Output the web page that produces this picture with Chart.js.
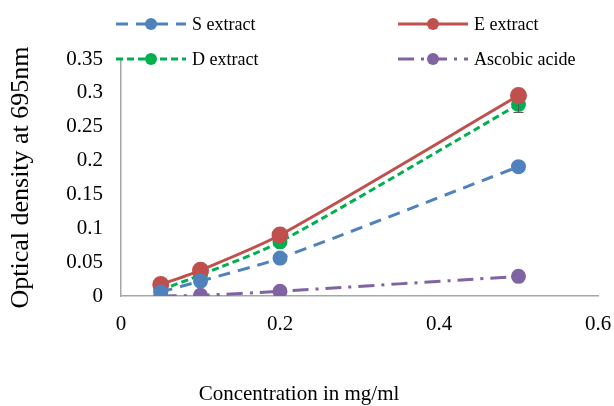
<!DOCTYPE html>
<html>
<head>
<meta charset="utf-8">
<script src="https://cdn.jsdelivr.net/npm/chart.js@4/dist/chart.umd.min.js"></script>
<style>
  html, body { margin: 0; padding: 0; background: #fff; }
  #wrap { width: 614px; height: 406px; position: relative; }
</style>
</head>
<body>
<div id="wrap"><canvas id="chart" width="614" height="406"></canvas></div>
<script>
// concentrations (mg/ml)
const concentrations = [0.05, 0.1, 0.2, 0.5];
// optical density at 695nm
const sExtract = [0.006, 0.022, 0.056, 0.191];
const eExtract = [0.017, 0.038, 0.09, 0.296];
const dExtract = [0.009, 0.031, 0.08, 0.283];
const ascobicAcide = [0.0, 0.001, 0.007, 0.029];
const dError = [0, 0, 0, 0.012];

const xTicks = [0, 0.2, 0.4, 0.6];
const yTicks = [0, 0.05, 0.1, 0.15, 0.2, 0.25, 0.3, 0.35];
const xTitle = 'Concentration in mg/ml';

const serif = "'Liberation Serif', 'Times New Roman', serif";

function toPoints(vals) {
    return concentrations.map((c, i) => ({ x: c, y: vals[i] }));
}

// small error bars (only D extract has a visible one)
const errorBars = {
    id: 'errorBars',
    afterDatasetsDraw(chart) {
        const ctx = chart.ctx;
        const xs = chart.scales.x, ys = chart.scales.y;
        ctx.save();
        ctx.strokeStyle = '#595959';
        ctx.lineWidth = 1.2;
        dExtract.forEach((v, i) => {
            if (!dError[i]) return;
            const px = xs.getPixelForValue(concentrations[i]);
            const y1 = ys.getPixelForValue(v - dError[i]);
            const y0 = ys.getPixelForValue(v);
            ctx.beginPath();
            ctx.moveTo(px, y0); ctx.lineTo(px, y1);
            ctx.moveTo(px - 5, y1); ctx.lineTo(px + 5, y1);
            ctx.stroke();
        });
        ctx.restore();
    }
};

// legend drawn in two columns like the original, plus the x title (sits left of centre)
const legendBox = {
    id: 'legendBox',
    afterDraw(chart) {
        const ctx = chart.ctx;
        const spots = [
            { x: 116, y: 24 }, { x: 398, y: 24 },
            { x: 116, y: 59 }, { x: 398, y: 59 }
        ];
        ctx.save();
        chart.data.datasets.forEach((ds, i) => {
            const p = spots[i];
            ctx.strokeStyle = ds.borderColor;
            ctx.lineWidth = ds.borderWidth;
            ctx.setLineDash(ds.borderDash || []);
            ctx.beginPath();
            ctx.moveTo(p.x, p.y);
            ctx.lineTo(p.x + 70, p.y);
            ctx.stroke();
            ctx.setLineDash([]);
            ctx.fillStyle = ds.pointBackgroundColor;
            ctx.beginPath();
            ctx.arc(p.x + 35, p.y, 6, 0, Math.PI * 2);
            ctx.fill();
            ctx.fillStyle = '#000';
            ctx.font = '18px ' + serif;
            ctx.textBaseline = 'middle';
            ctx.fillText(ds.label, p.x + 76, p.y + 1);
        });
        ctx.font = '21px ' + serif;
        ctx.textAlign = 'center';
        ctx.textBaseline = 'middle';
        ctx.fillStyle = '#000';
        ctx.fillText(xTitle, 299, 394);
        ctx.restore();
    }
};

new Chart(document.getElementById('chart'), {
    type: 'line',
    data: {
        datasets: [
            {
                label: 'S extract', data: toPoints(sExtract),
                borderColor: '#4F81BD', pointBackgroundColor: '#4F81BD', pointBorderColor: '#4F81BD',
                borderWidth: 3, borderDash: [12, 8], pointRadius: 6, tension: 0.25
            },
            {
                label: 'E extract', data: toPoints(eExtract),
                borderColor: '#C0504D', pointBackgroundColor: '#C0504D', pointBorderColor: '#C0504D',
                borderWidth: 3, pointRadius: 7, tension: 0.25
            },
            {
                label: 'D extract', data: toPoints(dExtract),
                borderColor: '#00B050', pointBackgroundColor: '#00B050', pointBorderColor: '#00B050',
                borderWidth: 3, borderDash: [7, 4], pointRadius: 6, tension: 0.25
            },
            {
                label: 'Ascobic acide', data: toPoints(ascobicAcide),
                borderColor: '#8064A2', pointBackgroundColor: '#8064A2', pointBorderColor: '#8064A2',
                borderWidth: 3, borderDash: [16, 7, 3, 7], pointRadius: 6, tension: 0.25
            }
        ]
    },
    options: {
        responsive: false,
        animation: false,
        layout: { padding: { top: 59, right: 16, left: 0, bottom: 0 } },
        plugins: { legend: { display: false }, tooltip: { enabled: false } },
        scales: {
            x: {
                type: 'linear', min: 0, max: 0.6,
                afterBuildTicks: axis => { axis.ticks = xTicks.map(v => ({ value: v })); },
                afterFit: axis => { axis.height = 110; axis.paddingLeft = 0; axis.paddingRight = 0; },
                grid: { display: false, drawTicks: false },
                border: { color: '#A6A6A6', width: 1.5 },
                ticks: { color: '#000', font: { family: serif, size: 21 }, padding: 16,
                         callback: v => String(v) },
                title: { display: false }
            },
            y: {
                min: 0, max: 0.35,
                afterBuildTicks: axis => { axis.ticks = yTicks.map(v => ({ value: v })); },
                afterFit: axis => { axis.width = 121; axis.paddingTop = 0; axis.paddingBottom = 0; },
                grid: { display: false, drawTicks: false },
                border: { color: '#A6A6A6', width: 1.5 },
                ticks: { color: '#000', font: { family: serif, size: 21 }, padding: 18,
                         callback: v => String(v) },
                title: { display: true, text: 'Optical density at 695nm', color: '#000',
                         font: { family: serif, size: 26 }, padding: { top: 6, bottom: 0 } }
            }
        }
    },
    plugins: [errorBars, legendBox]
});
</script>
</body>
</html>
